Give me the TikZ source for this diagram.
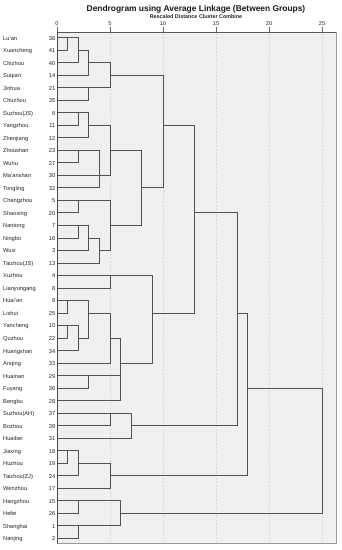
\documentclass[tikz,border=0pt]{standalone}
\usepackage{fontspec}
\setmainfont{Liberation Sans}
\newcommand\dxp[1]{57+10.6*#1}
\newcommand\dyp[1]{37.7+12.52*#1}
\begin{document}
\begin{tikzpicture}[x=1pt,y=-1pt,
  dl/.style={line width=1pt, draw=black!68, line cap=rect},
  nm/.style={anchor=west, font=\fontsize{5.7}{6}\selectfont, text=black!85, inner sep=0pt, text height=4.1pt, text depth=1.1pt},
  nr/.style={anchor=east, font=\fontsize{5.7}{6}\selectfont, text=black!85, inner sep=0pt, text height=4.1pt, text depth=1.1pt},
  tl/.style={font=\fontsize{5.6}{6}\selectfont, text=black!85, inner sep=0pt},
  grid/.style={draw=black!15, line width=0.6pt, dash pattern=on 2pt off 1.5pt}]
\useasboundingbox (0,0) rectangle (341,550);
\fill[white] (0,0) rectangle (341,550);
% title
\node[font=\fontsize{8.4}{9}\bfseries, text=black!90] (title) at (196,9) {Dendrogram using Average Linkage (Between Groups)};
\node[font=\fontsize{5.4}{6}\bfseries, text=black!85] (sub) at (196,16.5) {Rescaled Distance Cluster Combine};
% plot area
\fill[black!6] (57,32) rectangle (336,543);
\foreach \d in {5,10,15,20,25} {\draw[grid] ({\dxp{\d}},33) -- ({\dxp{\d}},542);}
\draw[black!40, line width=0.8pt] (57,543) -- (336,543) -- (336,32);
\draw[black!65, line width=0.8pt] (57,32) -- (336,32);
\draw[black!72, line width=1pt] (57,32) -- (57,543);
% axis ticks
\foreach \d in {0,5,10,15,20,25} {
  \draw[black!60, line width=0.6pt] ({\dxp{\d}},27) -- ({\dxp{\d}},32);
  \node[tl] (tk\d) at ({\dxp{\d}},23.5) {\d};
}
% leaf labels
\foreach \r/\nme/\num in {0/Lu'an/38,1/Xuancheng/41,2/Chizhou/40,3/Suqian/14,4/Jinhua/21,5/Chuzhou/35,6/Suzhou(JS)/6,7/Yangzhou/11,8/Zhenjiang/12,9/Zhoushan/23,10/Wuhu/27,11/Ma'anshan/30,12/Tongling/32,13/Changzhou/5,14/Shaoxing/20,15/Nantong/7,16/Ningbo/16,17/Wuxi/3,18/Taizhou(JS)/13,19/Xuzhou/4,20/Lianyungang/8,21/Huai'an/9,22/Lishui/25,23/Yancheng/10,24/Quzhou/22,25/Huangshan/34,26/Anqing/33,27/Huainan/29,28/Fuyang/36,29/Bengbu/28,30/Suzhou(AH)/37,31/Bozhou/39,32/Huaibei/31,33/Jiaxing/18,34/Huzhou/19,35/Taizhou(ZJ)/24,36/Wenzhou/17,37/Hangzhou/15,38/Hefei/26,39/Shanghai/1,40/Nanjing/2} {
  \node[nm] (name\r) at (3,{\dyp{\r}+0.8}) {\nme};
  \node[nr] (num\r) at (55.5,{\dyp{\r}+0.8}) {\num};
}
% leaf lines: row/first merge distance
\foreach \r/\d in {0/1,1/1,2/2,3/3,4/3,5/3,6/2,7/2,8/3,9/2,10/2,11/4,12/4,13/2,14/2,15/2,16/2,17/3,18/4,19/5,20/5,21/1,22/1,23/1,24/1,25/2,26/5,27/3,28/3,29/6,30/5,31/5,32/7,33/1,34/1,35/2,36/5,37/2,38/2,39/2,40/2} {
  \coordinate (leaf\r) at (57,{\dyp{\r}});
  \draw[dl] (leaf\r) -- ({\dxp{\d}},{\dyp{\r}});
}
% merges: distance, row a, row b, exit row, parent distance
\foreach \d/\ra/\rb/\ro/\dp [count=\i] in {1/0/1/0/2,2/0/2/1/3,3/1/3/2/5,3/4/5/4/5,5/2/4/3/10,2/6/7/6/3,3/6/8/7/5,2/9/10/9/4,4/9/12/11/5,5/7/11/9/8,2/13/14/13/5,2/15/16/15/3,3/15/17/16/4,4/16/18/17/5,5/13/17/15/8,8/9/15/12/10,10/3/12/7/13,5/19/20/19/9,1/21/22/21/3,1/23/24/23/2,2/23/25/24/3,3/21/24/22/5,5/22/26/24/6,3/27/28/27/6,6/24/29/26/9,9/19/26/22/13,13/7/22/14/17,5/30/31/30/7,7/30/32/31/17,17/14/31/22/18,1/33/34/33/2,2/33/35/34/5,5/34/36/35/18,18/22/35/28/25,2/37/38/37/6,2/39/40/39/6,6/37/39/38/25} {
  \coordinate (m\i) at ({\dxp{\d}},{\dyp{\ro}});
  \draw[dl] ({\dxp{\d}},{\dyp{\ra}}) -- ({\dxp{\d}},{\dyp{\rb}});
  \draw[dl] (m\i) -- ({\dxp{\dp}},{\dyp{\ro}});
}
% root
\coordinate (rootA) at ({\dxp{25}},{\dyp{28}});
\coordinate (rootB) at ({\dxp{25}},{\dyp{38}});
\draw[dl] (rootA) -- (rootB);
\end{tikzpicture}
\end{document}
